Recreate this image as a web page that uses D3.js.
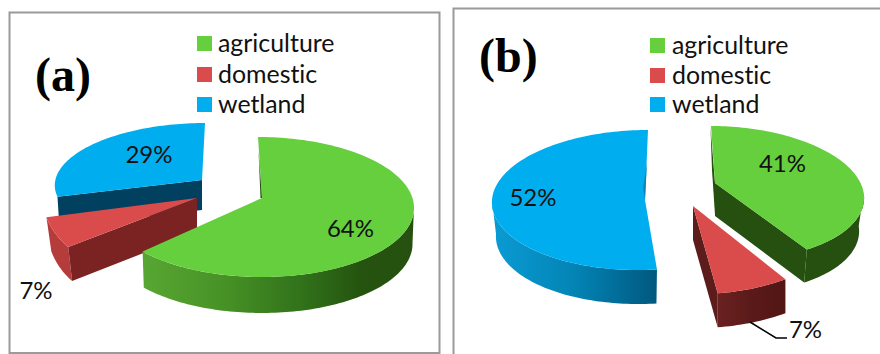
<!DOCTYPE html>
<html><head><meta charset="utf-8">
<style>html,body{margin:0;padding:0;background:#fff}svg{display:block}text{font-variant-ligatures:none}</style>
<script src="https://cdn.jsdelivr.net/npm/d3@7"></script></head>
<body><div id="c"></div>
<script>
const categories = ["agriculture", "domestic", "wetland"];
const valuesA = [64, 7, 29];
const valuesB = [41, 7, 52];
const topColors = ["#66cf3d", "#d94c4b", "#00aeef"];

const W = 880, H = 354, F = "Lato, 'Open Sans', sans-serif";
const svg = d3.select("#c").append("svg").attr("width", W).attr("height", H);
const defs = svg.append("defs");
function grad(id, stops){
  const g = defs.append("linearGradient").attr("id", id);
  stops.forEach(s => g.append("stop").attr("offset", s[0]).attr("stop-color", s[1]));
  return `url(#${id})`;
}
const gGreenA = grad("gA", [[0,"#58a632"],[.3,"#479226"],[.6,"#30701a"],[.8,"#25540f"],[1,"#26500f"]]);
const gBlueB = grad("bB", [[0,"#0a9bd4"],[.5,"#0384b5"],[1,"#01587f"]]);
const gRedB = grad("rB", [[0,"#6a2120"],[.5,"#5a1a19"],[1,"#521615"]]);

const line = d3.line();
function pt(o, a, d=0){
  const u = Math.sin(a), v = -Math.cos(a);
  const rx = o.rx - (d ? (o.taper||0) : 0);
  return [o.cx + rx*u + (o.sh||0)*v, o.cy + o.ry*v + d];
}
function arcPts(o, a0, a1, d=0){
  const n = Math.max(8, Math.ceil(Math.abs(a1-a0)*40));
  return d3.range(n+1).map(i => pt(o, a0+(a1-a0)*i/n, d));
}
function outerWall(g, o, a0, a1, fill){
  const p = arcPts(o,a0,a1).concat(arcPts(o,a1,a0,o.depth));
  g.append("path").attr("d", line(p)+"Z").attr("fill", fill);
}
function edgeWall(g, o, a, fill){
  const p = [o.apex, pt(o,a), pt(o,a,o.depth), [o.apex[0],o.apex[1]+o.depth]];
  g.append("path").attr("d", line(p)+"Z").attr("fill", fill);
}
function topFace(g, o, a0, a1, fill){
  const p = [o.apex].concat(arcPts(o,a0,a1));
  g.append("path").attr("d", line(p)+"Z").attr("fill", fill);
}
const pie = d3.pie().sort(null).value(d=>d);

/* frames */
svg.append("rect").attr("x",9.5).attr("y",12.5).attr("width",430).attr("height",340.5)
  .attr("fill","#fff").attr("stroke","#9a9a9a").attr("stroke-width",2);
svg.append("rect").attr("x",453.5).attr("y",8.5).attr("width",440).attr("height",350)
  .attr("fill","#fff").attr("stroke","#9a9a9a").attr("stroke-width",2);

/* panel a */
const A = pie(valuesA), ga = svg.append("g");
const aWet = {cx:197,cy:182,rx:142,ry:59,sh:-8,taper:2,apex:[202,180],depth:30};
const aDom = {cx:153,cy:198,rx:110,ry:77,taper:5,apex:[197,198],depth:34};
const aAgr = {cx:260,cy:207,rx:154,ry:70,sh:2,taper:1.5,apex:[262,198],depth:36};
edgeWall(ga,aWet,A[2].startAngle,"#02405f");
topFace(ga,aWet,A[2].startAngle,A[2].endAngle,topColors[2]);
outerWall(ga,aDom,A[1].startAngle,A[1].endAngle,"#b53c3a");
edgeWall(ga,aDom,A[1].startAngle,"#7a2322");
topFace(ga,aDom,A[1].startAngle,A[1].endAngle,topColors[1]);
outerWall(ga,aAgr,Math.PI/2,A[0].endAngle,gGreenA);
topFace(ga,aAgr,A[0].startAngle,A[0].endAngle,topColors[0]);
ga.append("path").attr("d",line([[258.5,150],[262,198],[260.5,198]])+"Z").attr("fill","#25500f");

/* panel b */
const B = pie(valuesB), gb = svg.append("g");
const bAgr = {cx:721.7,cy:193,rx:142,ry:67,sh:10.7,taper:5,apex:[715,183],depth:33};
const bDom = {cx:697,cy:199,rx:165,ry:95,apex:[693,206],depth:34};
const bWet = {cx:643,cy:200,rx:151,ry:70,sh:-5,taper:4,apex:[645,200],depth:34};
outerWall(gb,bWet,B[2].startAngle,3*Math.PI/2,gBlueB);
topFace(gb,bWet,B[2].startAngle,B[2].endAngle,topColors[2]);
gb.append("path").attr("d",line([[647,163],[645,200],[643,188]])+"Z").attr("fill","#0a86b8");
edgeWall(gb,bAgr,B[0].endAngle,"#25500f");
outerWall(gb,bAgr,Math.PI/2,B[0].endAngle,"#25500f");
gb.append("path").attr("d",line([[710.5,127],[715,183],[715,215],[712,170]])+"Z").attr("fill","#25500f");
topFace(gb,bAgr,B[0].startAngle,B[0].endAngle,topColors[0]);
edgeWall(gb,bDom,B[1].endAngle,"#5c1c1b");
outerWall(gb,bDom,B[1].startAngle,B[1].endAngle,gRedB);
topFace(gb,bDom,B[1].startAngle,B[1].endAngle,topColors[1]);
gb.append("path").attr("d","M750,322L776,338H787").attr("fill","none").attr("stroke","#000").attr("stroke-width",1.5);

/* legends */
function legend(x, ys, tx){
  categories.forEach((c,i)=>{
    svg.append("rect").attr("x",x).attr("y",ys[i]-7.5).attr("width",15).attr("height",15).attr("fill",topColors[i]);
    svg.append("text").attr("x",tx).attr("y",ys[i]+8).attr("font-family",F).attr("font-size",24.9).attr("fill","#111").text(c);
  });
}
legend(197,[43.5,74.5,104.5],218);
legend(650,[45.5,75.5,104.5],672);

/* labels */
function lab(x,y,t){svg.append("text").attr("x",x).attr("y",y).attr("font-family",F).attr("font-size",24).attr("fill","#111").attr("text-anchor","middle").text(`${t}%`);}
lab(149,163,valuesA[2]); lab(350.5,237,valuesA[0]); lab(36,299,valuesA[1]);
lab(782.5,172,valuesB[0]); lab(533,206,valuesB[2]); lab(805.5,338,valuesB[1]);

function title(x,y,t,s){svg.append("text").attr("x",x).attr("y",y).attr("font-family","'Liberation Serif',serif").attr("font-weight","bold").attr("font-size",s).attr("fill","#000").text(t);}
title(35,91,"(a)",48);
title(479,72,"(b)",48);
</script></body></html>
